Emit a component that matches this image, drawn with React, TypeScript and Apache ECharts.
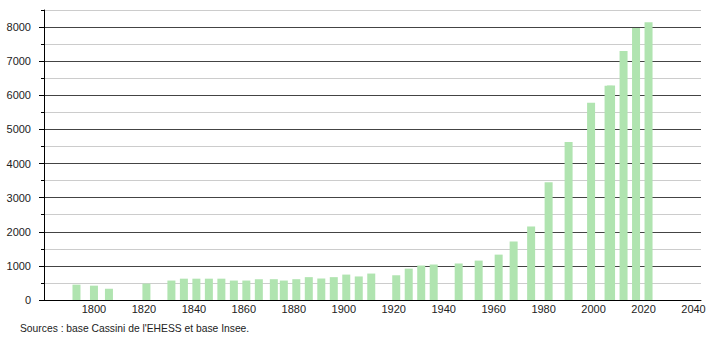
import React, { useEffect, useRef } from "react";
import * as echarts from "echarts";

const years = [
  1793, 1800, 1806, 1821, 1831, 1836, 1841, 1846, 1851, 1856, 1861, 1866, 1872,
  1876, 1881, 1886, 1891, 1896, 1901, 1906, 1911, 1921, 1926, 1931, 1936, 1946,
  1954, 1962, 1968, 1975, 1982, 1990, 1999, 2006, 2007, 2012, 2017, 2022,
];
const population = [
  450, 420, 330, 480, 570, 625, 625, 625, 625, 570, 570, 610, 610,
  570, 610, 670, 630, 670, 745, 690, 775, 725, 920, 1010, 1040, 1070,
  1155, 1330, 1715, 2155, 3450, 4630, 5785, 6280, 6290, 7300, 7970, 8140,
];
const yTicks = [0, 1000, 2000, 3000, 4000, 5000, 6000, 7000, 8000];
const xLabels = [1800, 1820, 1840, 1860, 1880, 1900, 1920, 1940, 1960, 1980, 2000, 2020, 2040];
const sourceText = "Sources : base Cassini de l'EHESS et base Insee.";

const FONT = "'Liberation Sans', Arial, sans-serif";

export default function App() {
  const ref = useRef<HTMLDivElement>(null);
  useEffect(() => {
    if (!ref.current) return;
    const chart = echarts.init(ref.current, undefined, { renderer: "svg" });
    chart.setOption({
      animation: false,
      backgroundColor: "#ffffff",
      textStyle: { fontFamily: FONT },
      grid: { left: 44, right: 9, top: 10, bottom: 40, containLabel: false },
      xAxis: {
        type: "value",
        min: 1780,
        max: 2043,
        interval: 20,
        axisLine: { show: true, onZero: false, lineStyle: { color: "#000", width: 1 } },
        axisTick: { show: false },
        splitLine: { show: false },
        axisLabel: {
          margin: 3,
          fontSize: 11,
          color: "#222",
          fontFamily: FONT,
          showMinLabel: true,
          showMaxLabel: true,
          formatter: (v: number) => (xLabels.includes(v) ? String(v) : ""),
        },
      },
      yAxis: [
        {
          type: "value",
          min: 0,
          max: 8500,
          interval: 500,
          position: "left",
          axisLine: { show: true, lineStyle: { color: "#000", width: 1 } },
          axisTick: { show: true, length: 3, lineStyle: { color: "#000" } },
          axisLabel: { show: false },
          splitLine: {
            show: true,
            lineStyle: { color: ["#444", "#cccccc"], width: 1 },
          },
        },
        {
          type: "value",
          min: 0,
          max: 8500,
          interval: 1000,
          position: "left",
          offset: 0,
          axisLine: { show: false },
          axisTick: {
            show: true,
            length: 5,
            customValues: yTicks,
            lineStyle: { color: "#000" },
          },
          splitLine: { show: false },
          axisLabel: {
            margin: 13,
            fontSize: 11,
            color: "#222",
            fontFamily: FONT,
            customValues: yTicks,
            formatter: (v: number) => String(v),
          },
        },
      ],
      series: [
        {
          type: "bar",
          yAxisIndex: 0,
          barWidth: 8,
          itemStyle: { color: "#b0e4b0" },
          data: years.map((y, i) => [y, population[i]]),
        },
      ],
      graphic: [
        {
          type: "text",
          left: 20,
          top: 323,
          style: {
            text: sourceText,
            fontSize: 10.3,
            fontFamily: FONT,
            fill: "#222",
          },
        },
      ],
    });
    return () => chart.dispose();
  }, []);
  return <div ref={ref} style={{ width: 710, height: 340, position: "absolute", left: 0, top: 0 }} />;
}
